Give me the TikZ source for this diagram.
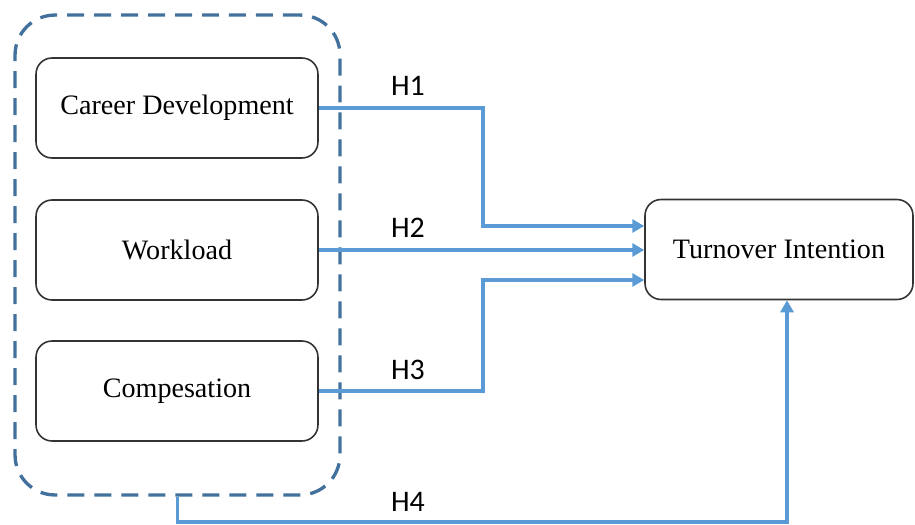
\documentclass[tikz,border=0pt]{standalone}
\usepackage{fontspec}
\setmainfont{Liberation Serif}
\newfontfamily\labfont{Carlito}
\usetikzlibrary{arrows.meta}

\definecolor{linkblue}{HTML}{5B9BD5}
\definecolor{groupblue}{HTML}{41719C}

\begin{document}
\begin{tikzpicture}[x=0.02cm, y=-0.02cm]
% ---------------------------------------------------------
% Styles
% ---------------------------------------------------------
\tikzset{
  var box/.style={draw=black!80, line width=0.9pt, rounded corners=0.32cm,
    minimum width=5.64cm, minimum height=2cm, inner sep=0pt,
    font=\fontsize{16}{19}\selectfont},
  group box/.style={draw=groupblue, line width=1.9pt, rounded corners=0.8cm,
    dash pattern=on 0.34cm off 0.2cm,
    minimum width=6.5cm, minimum height=9.6cm, inner sep=0pt},
  link/.style={draw=linkblue, line width=2pt,
    -{Triangle[length=2.4mm, width=2.6mm]}},
  hyp text/.style={font=\labfont\fontsize{17}{20}\selectfont}
}

\useasboundingbox (0,0) rectangle (915,524);

% =========================================================
% 1) BOXES
% =========================================================
\node[group box] (grp) at (177.5,255) {};

\node[var box] (cd) at (177,108) {Career Development};
\node[var box] (wl) at (177,250) {Workload};
\node[var box] (cp) at (177,391) {Compesation};

\node[var box, minimum width=5.36cm] (ti) at (779,249.5) {Turnover Intention};

% =========================================================
% 2) CONNECTORS
% =========================================================
\coordinate (j1) at (483,226);
\coordinate (j3) at (483,280);
\coordinate (j4) at (787,522);

% H1
\draw[link] (cd.east) -| (j1) -- (j1 -| ti.west);
% H2
\draw[link] (wl.east) -- (wl.east -| ti.west);
% H3
\draw[link] (cp.east) -| (j3) -- (j3 -| ti.west);
% H4
\draw[link] (grp.south) |- (j4) -- (j4 |- ti.south);

% =========================================================
% 3) LABELS
% =========================================================
\node[hyp text] (h1) at (408,86) {H1};
\node[hyp text] (h2) at (408,228) {H2};
\node[hyp text] (h3) at (408,370) {H3};
\node[hyp text] (h4) at (408,502) {H4};

\end{tikzpicture}
\end{document}
